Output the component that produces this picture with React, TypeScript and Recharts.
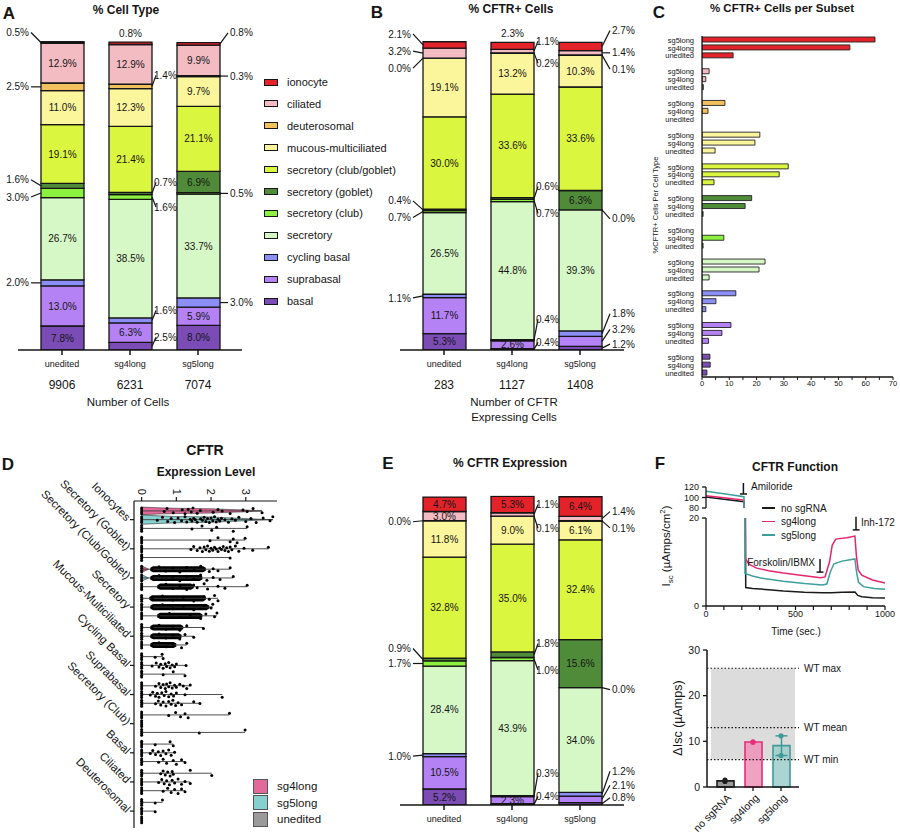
import React from 'react';
import {
  BarChart, Bar, XAxis, YAxis, LabelList, Cell, ComposedChart, Area, Scatter,
  ReferenceLine, ReferenceArea, LineChart, Line, ErrorBar,
} from 'recharts';

const FONT = '"Liberation Sans", Arial, Helvetica, sans-serif';
const INK = '#151515';

// ---------- cell types, listed from the bottom of each stack to the top ----------
const CELL_TYPES = [
  'basal', 'suprabasal', 'cycling basal', 'secretory', 'secretory (club)', 'secretory (goblet)',
  'secretory (club/goblet)', 'mucous-multiciliated', 'deuterosomal', 'ciliated', 'ionocyte',
];
const CELL_COLORS = [
  '#7b4cb6', '#b482f4', '#8a8ef6', '#d6f8c6', '#8cf03e', '#4f8b38',
  '#dbf63f', '#fbf59c', '#f1c160', '#f3bcc3', '#e3222a',
];
const CONDITIONS = ['unedited', 'sg4long', 'sg5long'];

const CELL_COUNTS = [9906, 6231, 7074];
const CFTR_CELL_COUNTS = [283, 1127, 1408];

// % cell type
const CELL_TYPE_PCT_UNEDITED = [7.8, 13.0, 2.0, 26.7, 3.0, 1.6, 19.1, 11.0, 2.5, 12.9, 0.5];
const CELL_TYPE_PCT_SG4LONG = [2.5, 6.3, 1.6, 38.5, 1.6, 0.7, 21.4, 12.3, 1.4, 12.9, 0.8];
const CELL_TYPE_PCT_SG5LONG = [8.0, 5.9, 3.0, 33.7, 0.5, 6.9, 21.1, 9.7, 0.3, 9.9, 0.8];

// % of CFTR+ cells
const CFTR_POS_PCT_UNEDITED = [5.3, 11.7, 1.1, 26.5, 0.7, 0.4, 30.0, 19.1, 0.0, 3.2, 2.1];
const CFTR_POS_PCT_SG4LONG = [0.4, 2.6, 0.4, 44.8, 0.7, 0.6, 33.6, 13.2, 0.2, 1.1, 2.3];
const CFTR_POS_PCT_SG5LONG = [1.2, 3.2, 1.8, 39.3, 0.0, 6.3, 33.6, 10.3, 0.1, 1.4, 2.7];

// % of CFTR expression
const CFTR_EXPR_PCT_UNEDITED = [5.2, 10.5, 1.0, 28.4, 1.7, 0.9, 32.8, 11.8, 0.0, 3.0, 4.7];
const CFTR_EXPR_PCT_SG4LONG = [0.4, 2.3, 0.3, 43.9, 1.0, 1.8, 35.0, 9.0, 0.1, 1.1, 5.3];
const CFTR_EXPR_PCT_SG5LONG = [0.8, 2.1, 1.2, 34.0, 0.0, 15.6, 32.4, 6.1, 0.1, 1.4, 6.4];

// % CFTR+ cells within each subset
const SUBSET_CFTR_UNEDITED = [1.8, 2.4, 1.4, 2.6, 0.4, 0.4, 4.4, 4.8, 0, 0.5, 11.4];
const SUBSET_CFTR_SG4LONG = [3.0, 7.3, 5.1, 20.9, 8.0, 15.8, 28.3, 19.4, 2.2, 1.4, 54.2];
const SUBSET_CFTR_SG5LONG = [2.9, 10.6, 12.4, 23.1, 0, 18.2, 31.6, 21.2, 8.4, 2.6, 63.4];
const SUBSET_TICKS = [0, 5, 10, 15, 20, 25, 30, 35, 40, 45, 50, 55, 60, 65, 70];

// segment label placement: I inside, T above, L/R beside the bar with a leader (vertical shift in px)
const CELL_TYPE_LABELS = [
  ['I', 'I', 'L0', 'I', 'L4', 'L-6', 'I', 'I', 'L0', 'I', 'L-10'],
  ['R-9', 'I', 'R-10', 'I', 'R10', 'R-11', 'I', 'I', 'R-11', 'I', 'T'],
  ['I', 'I', 'R0', 'I', 'R0', 'I', 'I', 'I', 'R0', 'I', 'R-11'],
];
const CFTR_POS_LABELS = [
  ['I', 'I', 'L2', 'I', 'L6', 'L-9', 'I', 'I', 'L10', 'L-2', 'L-11'],
  ['R-7', 'I', 'R-21', 'I', 'R13', 'R-12', 'I', 'I', 'R10', 'R-10', 'T'],
  ['R-4', 'R-12', 'R-20', 'I', 'R9', 'I', 'I', 'I', 'R14', 'R0', 'R-16'],
];
const CFTR_EXPR_LABELS = [
  ['I', 'I', 'L1', 'I', 'L0', 'L-11', 'I', 'I', 'L1', 'I', 'I'],
  ['R-8', 'I', 'R-23', 'I', 'R11', 'R-11', 'I', 'I', 'R12', 'R-10', 'I'],
  ['R-6', 'R-14', 'R-23', 'I', 'R2', 'I', 'I', 'I', 'R7', 'R-7', 'I'],
];
const RIGHT_LINE_DX = [8, 4, 8];
const RIGHT_TEXT_DX = [10, 2, 10];

// ---------- CFTR expression level (violin / dot plot) ----------
const EXPR_CELL_LABELS = [
  'Ionocytes', 'Secretory (Goblet)', 'Secretory (Club/Goblet)', 'Secretory', 'Mucous-Multiciliated',
  'Cycling Basal', 'Suprabasal', 'Secretory (Club)', 'Basal', 'Ciliated', 'Deuterosomal',
];
const EXPR_GROUPS = ['sg4long', 'sg5long', 'unedited'];
const EXPR_GROUP_COLORS = ['#e4699b', '#86d0cf', '#9a9a9a'];

// levels of expressing cells, per cell type: [sg4long, sg5long, unedited]
const LEVELS_IONOCYTES = [
  [0.65, 0.73, 0.91, 1.17, 1.25, 1.34, 1.43, 1.48, 1.6, 1.69, 2.06, 2.2, 2.32, 2.55, 2.92, 3.04, 3.21, 3.47],
  [0.45, 0.6, 0.75, 0.85, 0.95, 1.05, 1.15, 1.25, 1.3, 1.4, 1.45, 1.5, 1.55, 1.6, 1.7, 1.75, 1.8, 1.85, 1.9, 1.95,
    2.0, 2.05, 2.1, 2.15, 2.2, 2.25, 2.3, 2.4, 2.5, 2.6, 2.7, 2.8, 3.0, 3.15, 3.3, 3.5, 3.7, 3.78],
  [1.45, 1.74, 2.02, 2.16, 2.64, 3.04],
];
const LEVELS_SEC_GOBLET = [
  [1.97, 2.2, 2.55, 2.64, 2.75, 2.98],
  [1.42, 1.5, 1.6, 1.68, 1.75, 1.8, 1.85, 1.9, 1.95, 2.0, 2.05, 2.1, 2.15, 2.2, 2.25, 2.3, 2.35, 2.4, 2.45, 2.5,
    2.55, 2.6, 2.7, 2.8, 2.95, 3.2, 3.65],
  [2.55],
];
const LEVELS_SEC_CLUB_GOBLET = [
  [0.3, 0.5, 0.7, 0.9, 1.1, 1.3, 1.5, 1.7, 1.95, 2.06, 2.2, 2.55],
  [0.3, 0.5, 0.7, 0.9, 1.1, 1.3, 1.5, 1.7, 1.88, 2.06, 2.26, 2.64],
  [0.5, 0.7, 0.9, 1.1, 1.3, 1.5, 1.6, 1.8, 1.9, 2.2, 2.4, 3.04],
];
const LEVELS_SECRETORY = [
  [0.3, 0.6, 0.9, 1.2, 1.5, 1.8, 1.95, 2.1, 2.2],
  [0.3, 0.6, 0.9, 1.2, 1.5, 1.8, 2.0, 2.05],
  [0.5, 0.8, 1.1, 1.4, 1.7, 1.85, 2.1, 2.17],
];
const LEVELS_MUCOUS = [
  [0.3, 0.5, 0.7, 0.9, 1.1, 1.3, 1.78],
  [0.3, 0.5, 0.7, 0.9, 1.1, 1.25, 1.5],
  [0.3, 0.5, 0.7, 0.9, 1.15, 1.3],
];
const LEVELS_CYCLING = [
  [0.39, 0.59, 0.62],
  [0.3, 0.42, 0.5, 0.55, 0.62, 0.68, 0.72, 0.78, 0.82, 0.88, 0.95, 1.0, 1.28],
  [0.62, 0.91, 1.25],
];
const LEVELS_SUPRABASAL = [
  [0.4, 0.5, 0.55, 0.62, 0.68, 0.72, 0.78, 0.82, 0.88, 0.95, 1.0, 1.1, 1.2, 1.3, 1.4],
  [0.25, 0.32, 0.4, 0.45, 0.5, 0.58, 0.65, 0.7, 0.78, 0.85, 0.92, 1.0, 1.25, 2.32],
  [0.4, 0.48, 0.55, 0.62, 0.7, 0.78, 0.85, 0.9, 0.98, 1.05, 1.15, 1.5, 1.68],
];
const LEVELS_SEC_CLUB = [
  [0.78, 0.98, 1.12, 1.25, 1.34, 2.53],
  [],
  [1.66, 2.98],
];
const LEVELS_BASAL = [
  [0.39, 0.82, 0.91],
  [0.25, 0.32, 0.4, 0.48, 0.55, 0.62, 0.7, 0.78, 0.85, 0.95],
  [0.49, 0.62, 0.72, 0.91, 1.0, 1.15, 1.25],
];
const LEVELS_CILIATED = [
  [0.55, 0.62, 0.68, 0.75, 0.82, 0.88, 0.91, 1.4, 2.02],
  [0.49, 0.58, 0.65, 0.72, 0.8, 0.88, 0.95, 1.05, 1.15, 1.25, 1.4],
  [0.62, 0.75, 0.85, 0.95, 1.05, 1.15, 1.25],
];
const LEVELS_DEUTEROSOMAL = [[0.39, 0.6], [0.39], []];

const LEVELS_BY_CELL = [
  LEVELS_IONOCYTES, LEVELS_SEC_GOBLET, LEVELS_SEC_CLUB_GOBLET, LEVELS_SECRETORY, LEVELS_MUCOUS,
  LEVELS_CYCLING, LEVELS_SUPRABASAL, LEVELS_SEC_CLUB, LEVELS_BASAL, LEVELS_CILIATED, LEVELS_DEUTEROSOMAL,
];
// stretches packed so densely they read as solid: [cell, group, from, to]
const LEVELS_DENSE = [
  [2, 0, 0.25, 1.85], [2, 1, 0.25, 1.75], [2, 2, 0.45, 1.5],
  [3, 0, 0.22, 1.85], [3, 1, 0.25, 1.95], [3, 2, 0.45, 1.75],
  [4, 0, 0.25, 1.2], [4, 1, 0.25, 1.15], [4, 2, 0.25, 1.0],
];
// violin outlines: [level, half width in row units]
const VIOLIN_IONOCYTES_SG4 = [[0, 1.3], [0.5, 1.05], [1.0, 0.9], [1.5, 0.82], [2.0, 0.74], [2.5, 0.5], [3.0, 0.3], [3.47, 0]];
const VIOLIN_IONOCYTES_SG5 = [[0, 1.6], [0.5, 1.3], [1.0, 1.08], [1.5, 1.0], [2.0, 0.92], [2.5, 0.62], [3.0, 0.38], [3.4, 0.16], [3.78, 0]];
const VIOLIN_CLUB_GOBLET_SG4 = [[0, 1.15], [0.2, 0]];
const VIOLIN_CLUB_GOBLET_SG5 = [[0, 1.15], [0.2, 0]];
const VIOLINS = [
  { cell: 0, group: 0, outline: VIOLIN_IONOCYTES_SG4 },
  { cell: 0, group: 1, outline: VIOLIN_IONOCYTES_SG5 },
  { cell: 2, group: 0, outline: VIOLIN_CLUB_GOBLET_SG4 },
  { cell: 2, group: 1, outline: VIOLIN_CLUB_GOBLET_SG5 },
];
const JITTER = [0.2, -0.8, 0.6, -0.4, 0.95, -0.6, 0.35, -1.0, 0.8, -0.15, 0.5, -0.5, 0.05, 0.9, -0.3];
const ZERO_SPREAD = [-1, -0.35, 0.35, 1];

// ---------- Ussing chamber traces [time s, Isc] ----------
const ISC_NO_SGRNA = [[0, 101], [100, 96.5], [213, 92], [222, 4.2], [260, 4.0], [350, 3.7], [432, 3.4], [550, 3.1],
  [650, 3.0], [700, 3.0], [760, 3.1], [832, 3.2], [848, 2.4], [870, 2.1], [930, 1.9], [1000, 1.8]];
const ISC_SG4LONG = [[0, 103.5], [100, 99.5], [212, 95], [220, 10.8], [240, 9.5], [283, 8.6], [350, 8.0], [432, 7.5],
  [550, 6.9], [640, 6.4], [665, 6.6], [690, 10], [705, 13.8], [725, 15.2], [786, 15.5], [832, 15.9], [840, 11.5],
  [850, 8.2], [870, 7.0], [930, 5.9], [1000, 5.2]];
const ISC_SG5LONG = [[0, 112], [100, 107], [212, 101.5], [218, 7.4], [260, 6.8], [300, 6.4], [432, 5.6], [550, 5.1],
  [650, 4.8], [675, 5.0], [695, 7.8], [715, 9.6], [760, 10.2], [832, 10.7], [840, 8.0], [852, 5.4], [880, 4.4],
  [940, 4.0], [1000, 3.8]];
const ISC_TIME_TICKS = [0, 100, 200, 300, 400, 500, 600, 700, 800, 900, 1000];
const ISC_UPPER_TICKS = [80, 100, 120];

// ---------- delta Isc ----------
const DISC_GROUPS = ['no sgRNA', 'sg4long', 'sg5long'];
const DISC_MEAN = [1.35, 9.85, 9.05];
const DISC_REP1 = [1.2, 9.8, 11.2];
const DISC_REP2 = [1.5, 9.9, 6.9];
const DISC_ERR = [0, 0, 2.15];
const DISC_FILL = ['#8a8a8a', '#ee92b8', '#9ccccb'];
const DISC_STROKE = ['#1e1e1e', '#e2307a', '#3f9b99'];
const WT_MIN = 6;
const WT_MEAN = 13;
const WT_MAX = 26;

// ---------- table builders ----------
const stackRows = (series: number[][]) =>
  CONDITIONS.map((c, ci) => {
    const row: Record<string, number | string> = { condition: c };
    series[ci].forEach((v, ti) => { row[`t${ti}`] = v; });
    return row;
  });

const cellTypeRows = stackRows([CELL_TYPE_PCT_UNEDITED, CELL_TYPE_PCT_SG4LONG, CELL_TYPE_PCT_SG5LONG]);
const cftrPosRows = stackRows([CFTR_POS_PCT_UNEDITED, CFTR_POS_PCT_SG4LONG, CFTR_POS_PCT_SG5LONG]);
const cftrExprRows = stackRows([CFTR_EXPR_PCT_UNEDITED, CFTR_EXPR_PCT_SG4LONG, CFTR_EXPR_PCT_SG5LONG]);

const subsetRows: { key: string; value: number | null; ti: number }[] = [];
for (let ti = CELL_TYPES.length - 1; ti >= 0; ti--) {
  subsetRows.push({ key: `${ti}|sg5long`, value: SUBSET_CFTR_SG5LONG[ti], ti });
  subsetRows.push({ key: `${ti}|sg4long`, value: SUBSET_CFTR_SG4LONG[ti], ti });
  subsetRows.push({ key: `${ti}|unedited`, value: SUBSET_CFTR_UNEDITED[ti], ti });
  if (ti > 0) subsetRows.push({ key: `gap${ti}|`, value: null, ti: -1 });
}

const rowY = (cell: number, group: number) => cell * 10 + group * 3;
const exprPoints: { x: number; y: number }[] = [];
const exprLines: { y: number; max: number }[] = [];
LEVELS_BY_CELL.forEach((groups, cell) => {
  groups.forEach((levels, group) => {
    const base = rowY(cell, group);
    ZERO_SPREAD.forEach((o) => exprPoints.push({ x: 0, y: base + o }));
    levels.forEach((lv, k) => exprPoints.push({ x: lv, y: base + JITTER[k % JITTER.length] }));
    const dense = LEVELS_DENSE.filter((d) => d[0] === cell && d[1] === group).map((d) => d[3]);
    exprLines.push({ y: base, max: Math.max(0, ...levels, ...dense) });
  });
});
const denseBands = LEVELS_DENSE.map(([cell, group, from, to]) => {
  const y = rowY(cell, group);
  return [
    { x: from, band: [y - 0.5, y + 0.5] },
    { x: from + 0.08, band: [y - 1.05, y + 1.05] },
    { x: to - 0.08, band: [y - 1.05, y + 1.05] },
    { x: to, band: [y - 0.5, y + 0.5] },
  ];
});
const violinBands = VIOLINS.map((v) => {
  const y = rowY(v.cell, v.group);
  return { color: EXPR_GROUP_COLORS[v.group], data: v.outline.map(([lv, hw]) => ({ x: lv, band: [y - hw, y + hw] })) };
});
const exprTicks = EXPR_CELL_LABELS.map((_, i) => rowY(i, 1));

const toPts = (arr: number[][]) => arr.map(([t, v]) => ({ t, v }));
const iscSeries = [
  { name: 'no sgRNA', color: '#1a1a1a', data: toPts(ISC_NO_SGRNA) },
  { name: 'sg4long', color: '#e6256f', data: toPts(ISC_SG4LONG) },
  { name: 'sg5long', color: '#3d9f9c', data: toPts(ISC_SG5LONG) },
];
const discRows = DISC_GROUPS.map((name, i) => ({
  name, mean: DISC_MEAN[i], r1: DISC_REP1[i], r2: DISC_REP2[i], err: DISC_ERR[i] || undefined,
}));

// ---------- helpers ----------
function Txt({ x, y, children, size = 11, bold = false, anchor = 'middle', rotate = 0 }: any) {
  const tx = anchor === 'middle' ? '-50%' : anchor === 'end' ? '-100%' : '0%';
  return (
    <div
      style={{
        position: 'absolute', left: x, top: y, transform: `translate(${tx}, -50%) rotate(${rotate}deg)`,
        fontSize: size, fontWeight: bold ? 700 : 400, whiteSpace: 'nowrap', lineHeight: 1, color: INK,
      }}
    >
      {children}
    </div>
  );
}

const PLOT_LEFT = 18;
const AXIS_PAD = 10;

// one percentage label, placed inside, above or beside its segment
function segmentText(key: string, spec: string, value: number, ci: number, x: number, w: number, top: number, mid: number) {
  const text = `${value.toFixed(1)}%`;
  const side = spec[0];
  const dy = Number(spec.slice(1) || 0);
  const tp = { fontSize: 10, fill: INK, fontFamily: FONT };
  if (side === 'I') {
    return <text key={key} x={x + w / 2} y={mid} dy="0.36em" textAnchor="middle" {...tp}>{text}</text>;
  }
  if (side === 'T') {
    return <text key={key} x={x + w / 2} y={top - 5} textAnchor="middle" {...tp}>{text}</text>;
  }
  const ly = mid + dy;
  if (side === 'L') {
    return (
      <g key={key}>
        <line x1={x} y1={mid} x2={x - 10} y2={ly} stroke={INK} strokeWidth={1.2} />
        <text x={x - 12} y={ly} dy="0.36em" textAnchor="end" {...tp}>{text}</text>
      </g>
    );
  }
  const edge = x + w;
  return (
    <g key={key}>
      <line x1={edge} y1={mid} x2={edge + RIGHT_LINE_DX[ci]} y2={ly} stroke={INK} strokeWidth={1.2} />
      <text x={edge + RIGHT_TEXT_DX[ci]} y={ly} dy="0.36em" textAnchor="start" {...tp}>{text}</text>
    </g>
  );
}

// labels of a stacked segment; zero-height segments directly above are labelled at its top edge
const segmentLabel = (specs: string[][], ti: number, rows: any[], band: number) => (props: any) => {
  const vb = props.viewBox && props.viewBox.width !== undefined ? props.viewBox : props;
  const x = Number(vb.x);
  const y = Number(vb.y);
  const w = Number(vb.width);
  const h0 = Number(vb.height);
  if (!isFinite(x) || !isFinite(y) || !isFinite(w)) return null;
  const ci = Math.max(0, Math.min(2, Math.floor((x + w / 2 - PLOT_LEFT - AXIS_PAD) / band)));
  const top = Math.min(y, y + (h0 || 0));
  const mid = top + Math.abs(h0 || 0) / 2;
  const parts = [segmentText(`s${ti}`, specs[ci][ti], Number(rows[ci][`t${ti}`]), ci, x, w, top, mid)];
  for (let tj = ti + 1; tj < CELL_TYPES.length && Number(rows[ci][`t${tj}`]) === 0; tj++) {
    parts.push(segmentText(`s${tj}`, specs[ci][tj], 0, ci, x, w, top, top));
  }
  return <g>{parts}</g>;
};

const conditionTick = (counts?: number[]) => (props: any) => {
  const { x, y, payload } = props;
  const i = payload.index ?? props.index;
  return (
    <g>
      <text x={x} y={y + 10} textAnchor="middle" fontSize={9} fill={INK}>{payload.value}</text>
      {counts && <text x={x} y={y + 32} textAnchor="middle" fontSize={12} fill={INK}>{counts[i]}</text>}
    </g>
  );
};

function StackPanel({ left, top, width, plotRight, height, rows, specs, counts }: any) {
  const band = (plotRight - PLOT_LEFT - 2 * AXIS_PAD) / 3;
  return (
    <div style={{ position: 'absolute', left, top }}>
      <BarChart
        width={width} height={height} data={rows} barSize={43}
        margin={{ top: 40.5, right: width - plotRight, bottom: 0, left: PLOT_LEFT }}
      >
        <XAxis
          dataKey="condition" height={height - 350} padding={{ left: AXIS_PAD, right: AXIS_PAD }}
          axisLine={{ stroke: INK, strokeWidth: 1.5 }} tickLine={{ stroke: INK, strokeWidth: 1.5 }}
          tickSize={5} tickMargin={2} interval={0} tick={conditionTick(counts)}
        />
        <YAxis hide type="number" domain={[0, 100.5]} allowDataOverflow />
        {CELL_TYPES.map((t, ti) => (
          <Bar
            key={t} dataKey={`t${ti}`} stackId="s" fill={CELL_COLORS[ti]} stroke={INK} strokeWidth={1.3}
            isAnimationActive={false}
          >
            <LabelList dataKey={`t${ti}`} content={segmentLabel(specs, ti, rows, band)} />
          </Bar>
        ))}
      </BarChart>
    </div>
  );
}

const exprCatTick = (props: any) => {
  const { x, y, payload } = props;
  const label = EXPR_CELL_LABELS[Math.round((payload.value - 3) / 10)];
  return (
    <text x={x} y={y} dy={3} transform={`rotate(45 ${x} ${y})`} textAnchor="end" fontSize={11.5} fill={INK}>
      {label}
    </text>
  );
};
const exprLevelTick = (props: any) => {
  const { x, y, payload } = props;
  return (
    <text x={x} y={y} dy="0.35em" transform={`rotate(90 ${x} ${y})`} textAnchor="end" fontSize={11} fill={INK}>
      {payload.value}
    </text>
  );
};
const discTick = (props: any) => {
  const { x, y, payload } = props;
  return (
    <text x={x + 4} y={y + 3} transform={`rotate(-45 ${x + 4} ${y + 3})`} textAnchor="end" dy="0.35em" fontSize={10.5} fill={INK}>
      {payload.value}
    </text>
  );
};
// plain numeric tick for the Isc axes
const iscTick = (props: any) => {
  const { x, y, payload } = props;
  return (
    <text x={x} y={y} dy="0.35em" textAnchor="end" fontSize={9} fill={INK}>{Math.round(payload.value)}</text>
  );
};

export default function App() {
  const axis = { stroke: INK, strokeWidth: 1.3 };
  return (
    <div
      style={{
        position: 'absolute', left: 0, top: 0, width: 900, height: 838, background: '#fff',
        fontFamily: FONT, color: INK, overflow: 'hidden',
      }}
    >
      {/* A: % cell type */}
      <StackPanel left={0} top={0} width={262} plotRight={242} height={420} rows={cellTypeRows} specs={CELL_TYPE_LABELS} counts={CELL_COUNTS} />
      {/* B: % CFTR+ cells */}
      <StackPanel left={382} top={0} width={262} plotRight={242} height={420} rows={cftrPosRows} specs={CFTR_POS_LABELS} counts={CFTR_CELL_COUNTS} />
      {/* E: % CFTR expression */}
      <StackPanel left={382} top={455} width={262} plotRight={242} height={383} rows={cftrExprRows} specs={CFTR_EXPR_LABELS} />

      {/* C: % CFTR+ cells per subset */}
      <div style={{ position: 'absolute', left: 600, top: 0 }}>
        <BarChart
          layout="vertical" width={300} height={402} data={subsetRows} barSize={5}
          margin={{ top: 36, right: 7, bottom: 0, left: 0 }}
        >
          <XAxis
            type="number" domain={[0, 70]} ticks={SUBSET_TICKS} height={25} allowDataOverflow interval={0}
            tickFormatter={(v: number) => (v % 10 === 0 ? String(v) : '')}
            tick={{ fontSize: 7.5, fill: INK }} tickSize={3} tickMargin={1}
            axisLine={axis} tickLine={{ stroke: INK, strokeWidth: 1 }}
          />
          <YAxis
            type="category" dataKey="key" width={102} interval={0} tickLine={false} tickMargin={2}
            tickFormatter={(k: string) => k.split('|')[1]} tick={{ fontSize: 7.5, fill: INK }} axisLine={axis}
          />
          <Bar dataKey="value" stroke="#222" strokeWidth={0.9} isAnimationActive={false}>
            {subsetRows.map((r) => (
              <Cell key={r.key} fill={r.ti >= 0 ? CELL_COLORS[r.ti] : 'none'} />
            ))}
          </Bar>
        </BarChart>
      </div>

      {/* D: CFTR expression level */}
      <div style={{ position: 'absolute', left: 0, top: 440 }}>
        <ComposedChart width={300} height={398} margin={{ top: 31, right: 23, bottom: 10, left: 0 }}>
          <XAxis
            type="number" dataKey="x" orientation="top" domain={[-0.22, 3.9]} ticks={[0, 1, 2, 3]} height={30}
            allowDataOverflow axisLine={{ stroke: INK, strokeWidth: 1.2 }} tickLine={{ stroke: INK, strokeWidth: 1.2 }}
            tickSize={4} tickMargin={2} tick={exprLevelTick} interval={0}
          />
          <YAxis
            type="number" dataKey="y" domain={[-3.4, 108.8]} reversed ticks={exprTicks} width={134} interval={0}
            allowDataOverflow axisLine={{ stroke: INK, strokeWidth: 1.2 }} tickLine={{ stroke: INK, strokeWidth: 1.2 }}
            tickSize={4} tickMargin={2} tick={exprCatTick}
          />
          {exprLines.filter((l) => l.max > 0).map((l) => (
            <ReferenceLine
              key={`row-${l.y}`} segment={[{ x: 0, y: l.y }, { x: l.max, y: l.y }]}
              stroke="#3a3a3a" strokeWidth={0.9}
            />
          ))}
          {violinBands.map((v, i) => (
            <Area
              key={`violin-${i}`} data={v.data} dataKey="band" type="linear" fill={v.color} fillOpacity={1}
              stroke="#333" strokeWidth={0.6} isAnimationActive={false} dot={false} activeDot={false}
            />
          ))}
          {denseBands.map((d, i) => (
            <Area
              key={`dense-${i}`} data={d} dataKey="band" type="linear" fill="#000" fillOpacity={1}
              stroke="none" isAnimationActive={false} dot={false} activeDot={false}
            />
          ))}
          <Scatter
            data={exprPoints} isAnimationActive={false}
            shape={(p: any) => <circle cx={p.cx} cy={p.cy} r={1.5} fill="#000" />}
          />
        </ComposedChart>
      </div>

      {/* F: short-circuit current traces, lower part of the broken y axis */}
      <div style={{ position: 'absolute', left: 640, top: 510 }}>
        <LineChart width={260} height={135} margin={{ top: 8, right: 15, bottom: 5, left: 0 }}>
          <XAxis
            type="number" dataKey="t" domain={[0, 1000]} ticks={ISC_TIME_TICKS} height={34} allowDataOverflow interval={0}
            tickFormatter={(v: number) => (v % 500 === 0 ? String(v) : '')} tick={{ fontSize: 9, fill: INK }}
            tickSize={4} tickMargin={1} axisLine={axis} tickLine={{ stroke: INK, strokeWidth: 1.2 }}
          />
          <YAxis
            type="number" domain={[0, 20]} ticks={[0, 20]} allowDataOverflow width={66} interval={0}
            tickSize={4} tickMargin={3} tick={iscTick} axisLine={axis}
            tickLine={{ stroke: INK, strokeWidth: 1.3 }}
          />
          <ReferenceLine segment={[{ x: 637, y: 10.7 }, { x: 637, y: 7.7 }]} stroke={INK} strokeWidth={1.5} ifOverflow="visible" />
          <ReferenceLine segment={[{ x: 618, y: 7.7 }, { x: 656, y: 7.7 }]} stroke={INK} strokeWidth={1.5} ifOverflow="visible" />
          <ReferenceLine segment={[{ x: 838, y: 20.3 }, { x: 838, y: 17.3 }]} stroke={INK} strokeWidth={1.5} ifOverflow="visible" />
          <ReferenceLine segment={[{ x: 820, y: 17.3 }, { x: 858, y: 17.3 }]} stroke={INK} strokeWidth={1.5} ifOverflow="visible" />
          {iscSeries.map((s) => (
            <Line
              key={s.name} data={s.data} dataKey="v" type="linear" stroke={s.color} strokeWidth={1.5}
              dot={false} activeDot={false} isAnimationActive={false}
            />
          ))}
        </LineChart>
      </div>
      {/* upper part of the broken y axis; the time axis is drawn below only */}
      <div style={{ position: 'absolute', left: 640, top: 470 }}>
        <LineChart width={260} height={45} margin={{ top: 17, right: 15, bottom: 7, left: 0 }}>
          <XAxis type="number" dataKey="t" domain={[0, 1000]} height={0} tick={false} axisLine={false} tickLine={false} allowDataOverflow />
          <YAxis
            type="number" domain={[80, 120]} ticks={ISC_UPPER_TICKS} allowDataOverflow width={66} interval={0}
            tickSize={4} tickMargin={3} tick={iscTick} axisLine={axis}
            tickLine={{ stroke: INK, strokeWidth: 1.3 }}
          />
          <ReferenceLine segment={[{ x: 209, y: 127.6 }, { x: 209, y: 106.7 }]} stroke={INK} strokeWidth={1.5} ifOverflow="visible" />
          <ReferenceLine segment={[{ x: 190, y: 106.7 }, { x: 229, y: 106.7 }]} stroke={INK} strokeWidth={1.5} ifOverflow="visible" />
          {iscSeries.map((s) => (
            <Line
              key={s.name} data={s.data} dataKey="v" type="linear" stroke={s.color} strokeWidth={1.5}
              dot={false} activeDot={false} isAnimationActive={false}
            />
          ))}
        </LineChart>
      </div>

      {/* F: delta Isc bars */}
      <div style={{ position: 'absolute', left: 640, top: 640 }}>
        <ComposedChart width={260} height={198} data={discRows} margin={{ top: 10, right: 101, bottom: 0, left: 0 }}>
          <XAxis
            dataKey="name" height={51} padding={{ left: 4, right: 4 }} interval={0} tick={discTick}
            tickSize={4} tickMargin={2} axisLine={{ stroke: INK, strokeWidth: 1.5 }} tickLine={{ stroke: INK, strokeWidth: 1.3 }}
          />
          <YAxis
            type="number" domain={[0, 30]} ticks={[0, 10, 20, 30]} width={67} tickSize={4} tickMargin={3} interval={0}
            tick={{ fontSize: 10.5, fill: INK }} axisLine={{ stroke: INK, strokeWidth: 1.5 }}
            tickLine={{ stroke: INK, strokeWidth: 1.3 }}
          />
          <ReferenceArea y1={WT_MIN} y2={WT_MAX} fill="#dcdcdc" fillOpacity={1} stroke="none" />
          <ReferenceLine y={WT_MAX} stroke={INK} strokeWidth={1.2} strokeDasharray="1.5 2"
            label={{ value: 'WT max', position: 'right', fontSize: 10, fill: INK }} />
          <ReferenceLine y={WT_MEAN} stroke={INK} strokeWidth={1.2} strokeDasharray="1.5 2"
            label={{ value: 'WT mean', position: 'right', fontSize: 10, fill: INK }} />
          <ReferenceLine y={WT_MIN} stroke={INK} strokeWidth={1.2} strokeDasharray="1.5 2"
            label={{ value: 'WT min', position: 'right', fontSize: 10, fill: INK }} />
          <Bar dataKey="mean" barSize={17} strokeWidth={1.6} fillOpacity={0.85} isAnimationActive={false}>
            {discRows.map((r, i) => (
              <Cell key={r.name} fill={DISC_FILL[i]} stroke={DISC_STROKE[i]} />
            ))}
            <ErrorBar dataKey="err" width={6} stroke="#3f9b99" strokeWidth={1.5} direction="y" />
          </Bar>
          {['r1', 'r2'].map((k) => (
            <Line
              key={k} dataKey={k} stroke="none" isAnimationActive={false} activeDot={false}
              dot={(p: any) => <circle key={`${k}-${p.index}`} cx={p.cx} cy={p.cy} r={2.6} fill={DISC_STROKE[p.index]} />}
            />
          ))}
        </ComposedChart>
      </div>

      {/* legends */}
      {CELL_TYPES.map((t, ti) => {
        const row = CELL_TYPES.length - 1 - ti;
        return (
          <div key={t} style={{ position: 'absolute', left: 264, top: 75 + row * 21.9, height: 14, display: 'flex', alignItems: 'center', fontSize: 11 }}>
            <span style={{ display: 'inline-block', width: 12, height: 5, border: `1.5px solid ${INK}`, background: CELL_COLORS[ti], marginRight: 9 }} />
            <span>{t}</span>
          </div>
        );
      })}
      {EXPR_GROUPS.map((g, i) => (
        <div key={g} style={{ position: 'absolute', left: 253, top: 778 + i * 16.5, height: 16, display: 'flex', alignItems: 'center', fontSize: 11.5 }}>
          <span style={{ display: 'inline-block', width: 13, height: 13, border: '1.2px solid #555', background: EXPR_GROUP_COLORS[i], marginRight: 9 }} />
          <span>{g}</span>
        </div>
      ))}
      {iscSeries.map((s, i) => (
        <div key={s.name} style={{ position: 'absolute', left: 762, top: 501 + i * 13.5, height: 14, display: 'flex', alignItems: 'center', fontSize: 10 }}>
          <span style={{ display: 'inline-block', width: 13, height: 1.6, background: s.color, marginRight: 6 }} />
          <span>{s.name}</span>
        </div>
      ))}

      {/* panel letters and titles */}
      <Txt x={9} y={13} size={17} bold>A</Txt>
      <Txt x={377} y={12} size={17} bold>B</Txt>
      <Txt x={659} y={12} size={17} bold>C</Txt>
      <Txt x={8} y={464} size={17} bold>D</Txt>
      <Txt x={388} y={463} size={17} bold>E</Txt>
      <Txt x={660} y={463} size={17} bold>F</Txt>

      <Txt x={126} y={10} size={12} bold>% Cell Type</Txt>
      <Txt x={511} y={9} size={12} bold>% CFTR+ Cells</Txt>
      <Txt x={782} y={9} size={11.5} bold>% CFTR+ Cells per Subset</Txt>
      <Txt x={205} y={450} size={14} bold>CFTR</Txt>
      <Txt x={206} y={472} size={12} bold>Expression Level</Txt>
      <Txt x={510} y={463} size={12} bold>% CFTR Expression</Txt>
      <Txt x={795} y={467} size={12} bold>CFTR Function</Txt>

      {/* axis titles and annotations */}
      <Txt x={128} y={403} size={11.5}>Number of Cells</Txt>
      <Txt x={514} y={403} size={11.5}>Number of CFTR</Txt>
      <Txt x={514} y={418} size={11.5}>Expressing Cells</Txt>
      <Txt x={656} y={205} size={7.5} rotate={-90}>%CFTR+ Cells Per Cell Type</Txt>
      <Txt x={667} y={546} size={11.5} rotate={-90}>
        I<sub style={{ fontSize: 8 }}>sc</sub> (µAmps/cm<sup style={{ fontSize: 8 }}>2</sup>)
      </Txt>
      <Txt x={796} y={632} size={10}>Time (sec.)</Txt>
      <Txt x={678} y={718} size={12.5} rotate={-90}>ΔIsc (µAmps)</Txt>
      <Txt x={751} y={487} size={10} anchor="start">Amiloride</Txt>
      <Txt x={861} y={523} size={10} anchor="start">Inh-172</Txt>
      <Txt x={815} y={563} size={10} anchor="end">Forskolin/IBMX</Txt>
    </div>
  );
}
